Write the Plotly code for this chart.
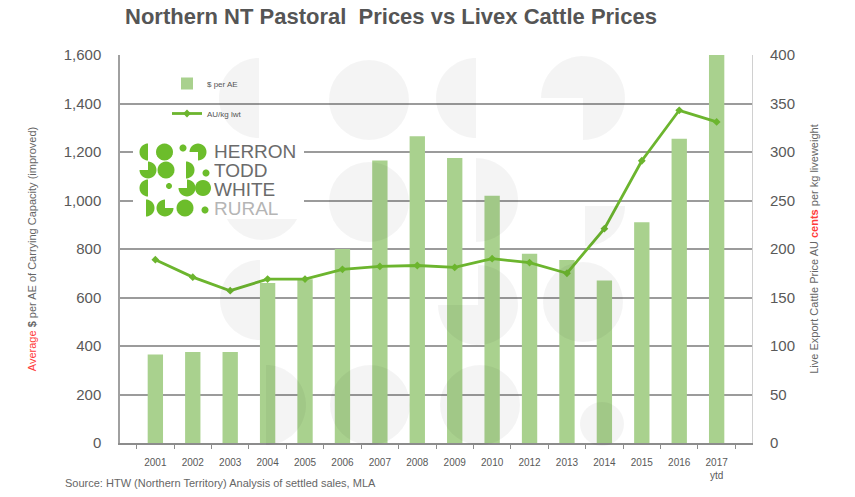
import math
import plotly.graph_objects as go

# ---------------- data ----------------
years = ["2001", "2002", "2003", "2004", "2005", "2006", "2007", "2008", "2009",
         "2010", "2012", "2013", "2014", "2015", "2016", "2017<br>ytd"]
per_ae = [365, 375, 375, 660, 675, 800, 1165, 1265, 1175, 1020, 780, 755, 670, 910, 1255, 1600]
au_kg_lwt = [189, 171, 157, 169, 169, 179, 182, 183, 181, 190, 186, 175, 221, 291, 343, 331]
left_ticks = [0, 200, 400, 600, 800, 1000, 1200, 1400, 1600]
right_ticks = [0, 50, 100, 150, 200, 250, 300, 350, 400]

W, H = 855, 497
L, R, T, B = 120, 103, 55, 54
PX0, PX1 = L, W - R
PY0, PY1 = T, H - B


def px(x):
    return (x - PX0) / (PX1 - PX0)


def py(y):
    return (PY1 - y) / (PY1 - PY0)


def sector_path(cx, cy, r, a0, a1, n=40):
    """polygon of a circular sector in pixel space (angles in degrees, math orientation)"""
    pts = []
    full = (a1 - a0) >= 360
    if not full:
        pts.append((cx, cy))
    for i in range(n + 1):
        a = math.radians(a0 + (a1 - a0) * i / n)
        pts.append((cx + r * math.cos(a), cy - r * math.sin(a)))
    d = "M " + " L ".join(f"{px(x):.5f},{py(y):.5f}" for x, y in pts) + " Z"
    return d


shapes = []
# faint watermark of the logo
wm = [
    (259, 98, 40, 90, 270), (369, 100, 40, 0, 360), (476, 98, 40, 90, 270), (583, 98, 42, -90, 180),
    (262, 200, 40, 0, 360), (369, 202, 40, 0, 360), (476, 200, 42, -90, 90), (585, 206, 40, -90, 0),
    (260, 300, 40, 90, 270), (478, 305, 40, -180, 90), (583, 302, 40, 0, 360),
    (266, 405, 40, -90, 90), (370, 405, 40, 0, 360), (480, 405, 40, 0, 360), (602, 424, 22, 0, 360),
]
for cx, cy, r, a0, a1 in wm:
    shapes.append(dict(type="path", xref="paper", yref="paper", path=sector_path(cx, cy, r, a0, a1),
                       fillcolor="rgba(0,0,0,0.045)", line=dict(width=0), layer="above"))

# white logo box
shapes.append(dict(type="rect", xref="paper", yref="paper", x0=px(133), x1=px(304), y0=py(219), y1=py(140),
                   fillcolor="white", line=dict(width=0), layer="above"))
# logo dots
G = "#6cbd2b"
dots = [
    (148, 152, 8.5, 90, 270), (164.5, 152, 8.5, 0, 360), (183, 148, 3.5, 0, 360), (198, 152, 8.5, -90, 180),
    (148, 170, 8.5, -180, 90), (166, 170, 8.5, 0, 360), (186, 170, 8.5, -90, 90), (206, 173, 3.5, 0, 360),
    (148, 188, 8.5, 90, 270), (169, 186, 3.0, 0, 360), (187, 188, 8.5, -180, 90), (203, 188, 8.0, 0, 360),
    (146, 208, 8.5, -90, 90), (165, 208, 8.5, 90, 360), (185, 208, 8.5, 0, 360), (205, 210, 3.5, 0, 360),
]
for cx, cy, r, a0, a1 in dots:
    shapes.append(dict(type="path", xref="paper", yref="paper", path=sector_path(cx, cy, r, a0, a1, 24),
                       fillcolor=G, line=dict(width=0), layer="above"))

annotations = []
for i, (word, col) in enumerate([("HERRON", "#6b6b6b"), ("TODD", "#6b6b6b"), ("WHITE", "#6b6b6b"), ("RURAL", "#b5b5b5")]):
    annotations.append(dict(xref="paper", yref="paper", x=px(212), y=py([151, 170, 189, 208][i]),
                            xanchor="left", yanchor="middle", text=word, showarrow=False,
                            height=17, valign="middle",
                            font=dict(family="Liberation Sans, Arial, sans-serif", size=19, color=col)))

annotations.append(dict(xref="paper", yref="paper", x=px(63), y=py(483), xanchor="left", yanchor="middle",
                        text="Source: HTW (Northern Territory) Analysis of settled sales, MLA", showarrow=False,
                        font=dict(family="Liberation Sans, Arial, sans-serif", size=11, color="#666666")))

fig = go.Figure()
fig.add_trace(go.Bar(x=years, y=per_ae, name="$ per AE", marker=dict(color="#a9d18e", line=dict(width=0)),
                     yaxis="y", legendgroup="a"))
fig.add_trace(go.Scatter(x=years, y=au_kg_lwt, name="AU/kg lwt", mode="lines+markers",
                         line=dict(color="#6cb52e", width=2.8),
                         marker=dict(symbol="diamond", size=6, color="#6cb52e"),
                         yaxis="y2", legendgroup="b"))

tickfont = dict(family="Liberation Sans, Arial, sans-serif", size=15, color="#595959")
fig.update_layout(
    width=W, height=H,
    margin=dict(l=L, r=R, t=T, b=B),
    paper_bgcolor="white", plot_bgcolor="white",
    title=dict(text="<b>Northern NT Pastoral  Prices vs Livex Cattle Prices</b>",
               x=391 / W, xanchor="center", xref="container", y=1 - 16 / H, yref="container", yanchor="middle",
               font=dict(family="Liberation Sans, Arial, sans-serif", size=22, color="#555555")),
    bargap=0.59,
    showlegend=True,
    legend=dict(x=px(167), y=py(69), xanchor="left", yanchor="top", bgcolor="rgba(0,0,0,0)",
                font=dict(family="Liberation Sans, Arial, sans-serif", size=8, color="#555555"),
                tracegroupgap=11, itemwidth=30, traceorder="grouped"),
    xaxis=dict(type="category", showgrid=False, showline=True, linecolor="#8c8c8c", linewidth=1.5,
               ticks="outside", tickson="boundaries", ticklen=4, tickcolor="#8c8c8c",
               tickfont=dict(family="Liberation Sans, Arial, sans-serif", size=10, color="#595959"),
               ticklabelstandoff=9, tickangle=0),
    yaxis=dict(range=[0, 1600], tickvals=left_ticks, tickformat=",", showgrid=True, gridcolor="#9b9b9b",
               gridwidth=2, zeroline=False, showline=True, linecolor="#a0a0a0", linewidth=1.5,
               tickfont=tickfont, ticklabelstandoff=14,
               title=dict(text="<span style='color:#ff3b3b'>Average</span> <b>$</b> per AE of Carrying Capacity (improved)",
                          font=dict(family="Liberation Sans, Arial, sans-serif", size=11, color="#666666"),
                          standoff=25)),
    yaxis2=dict(range=[0, 400], tickvals=right_ticks, overlaying="y", side="right", showgrid=False,
                zeroline=False, showline=True, linecolor="#d0d0d0", linewidth=1,
                tickfont=tickfont, ticklabelstandoff=14,
                title=dict(text="Live Export Cattle Price AU <span style='color:#ff3b3b'><b>cents</b></span> per kg liveweight",
                           font=dict(family="Liberation Sans, Arial, sans-serif", size=11, color="#666666"),
                           standoff=16)),
    shapes=shapes,
    annotations=annotations,
)

fig.write_html("out.html")
